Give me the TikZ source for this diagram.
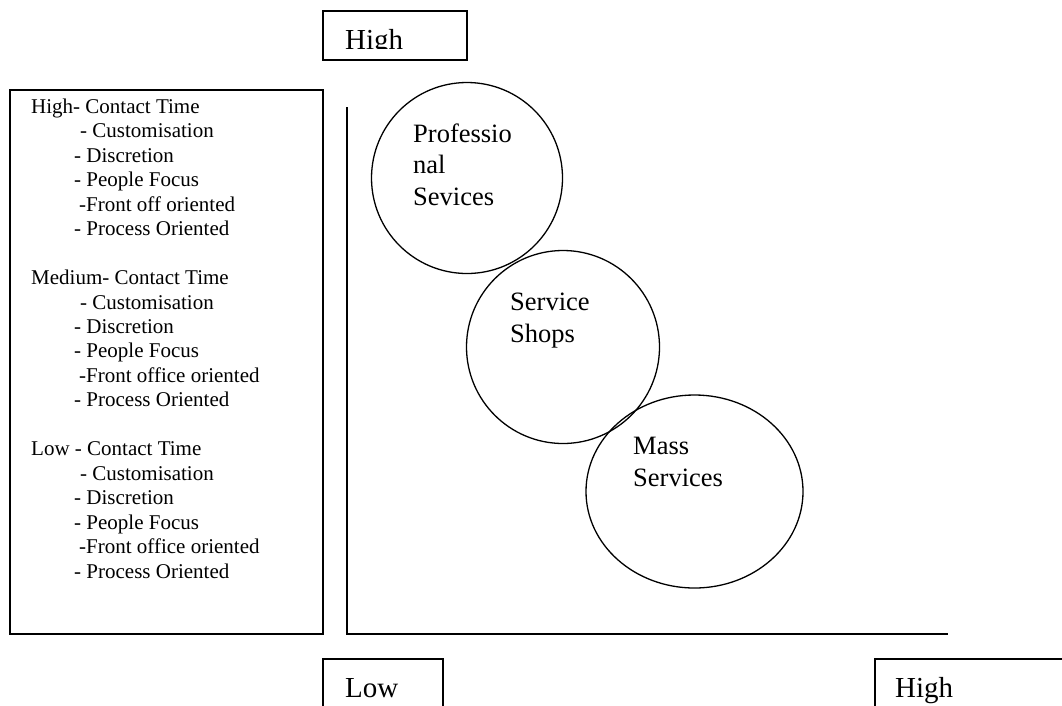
\documentclass[tikz,border=0pt]{standalone}
\usepackage{fontspec}
\setmainfont{Liberation Serif}
\usetikzlibrary{shapes.geometric}

\begin{document}
\begin{tikzpicture}[x=1pt,y=-1pt,
    frame/.style={draw, line width=1.6pt, inner sep=0pt},
    bubble/.style={draw, line width=1.3pt, circle, inner sep=0pt},
    axislabel/.style={font=\fontsize{29}{33}\selectfont, anchor=base west, inner sep=0pt},
    bubbletext/.style={font=\fontsize{26.5}{31.5}\selectfont, align=left, anchor=base west, inner sep=0pt}]
  \clip (0,0) rectangle (1062,705);

  % Left panel with the list (anchored on the last baseline)
  \node[frame, minimum width=313pt, minimum height=544pt] (panel) at (166.5,362) {};
  \node[font=\fontsize{21}{24.45}\selectfont, align=left, anchor=base west, inner sep=0pt] (traits) at (31,578)
    {High- Contact Time\\
     \hspace*{49pt}- Customisation\\
     \hspace*{43pt}- Discretion\\
     \hspace*{43pt}- People Focus\\
     \hspace*{48pt}-Front off oriented\\
     \hspace*{43pt}- Process Oriented\\[24.45pt]
     Medium- Contact Time\\
     \hspace*{49pt}- Customisation\\
     \hspace*{43pt}- Discretion\\
     \hspace*{43pt}- People Focus\\
     \hspace*{48pt}-Front office oriented\\
     \hspace*{43pt}- Process Oriented\\[24.45pt]
     Low - Contact Time\\
     \hspace*{49pt}- Customisation\\
     \hspace*{43pt}- Discretion\\
     \hspace*{43pt}- People Focus\\
     \hspace*{48pt}-Front office oriented\\
     \hspace*{43pt}- Process Oriented};

  % Axes
  \coordinate (ytop) at (347,107);
  \coordinate (origin) at (347,634);
  \coordinate (xend) at (948,634);
  \draw[line width=1.6pt] (ytop) -- (origin) -- (xend);

  % Axis end boxes
  \node[frame, minimum width=144pt, minimum height=49pt] (yhigh) at (395,35.5) {};
  \begin{scope}
    \clip (323,11) rectangle (467,48.5);
    \node[axislabel] (yhightxt) at (345,49) {High};
  \end{scope}
  \node[frame, minimum width=120pt, minimum height=80pt] (xlow) at (383,699) {};
  \node[axislabel] (xlowtxt) at (345,697) {Low};
  \node[frame, minimum width=210pt, minimum height=80pt] (xhigh) at (980,699) {};
  \node[axislabel] (xhightxt) at (895,697) {High};

  % Service types
  \node[bubble, minimum size=191pt] (prof) at (467,178) {};
  \node[bubbletext] (proftxt) at (413,205) {Professio\\nal\\Sevices};
  \node[bubble, minimum size=193pt] (shops) at (563,347) {};
  \node[bubbletext] (shopstxt) at (510,342) {Service\\Shops};
  \node[bubble, ellipse, minimum width=217pt, minimum height=193pt] (mass) at (694.5,491.5) {};
  \node[bubbletext] (masstxt) at (633,486) {Mass\\Services};
\end{tikzpicture}
\end{document}
